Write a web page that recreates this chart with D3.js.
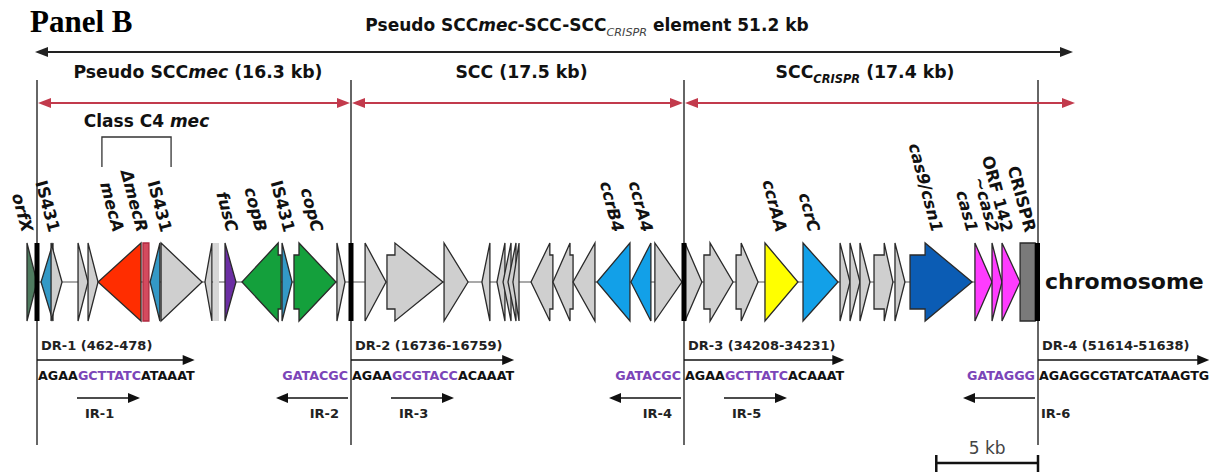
<!DOCTYPE html>
<html><head><meta charset="utf-8">
<script src="https://cdn.jsdelivr.net/npm/d3@7"></script>
<style>body{margin:0;background:#fff}svg{display:block}</style>
</head><body>
<svg id="c" width="1226" height="472"></svg>
<script>
// ---------------- data ----------------
const panelTitle = "Panel B";
const titleParts = [["Pseudo SCC","n"],["mec","i"],["-SCC-SCC","n"],["CRISPR","sub"],[" element 51.2 kb","n"]];
const boundaryKb = [0, 16.3, 33.8, 51.2];
const sectionParts = [
  [["Pseudo SCC","n"],["mec","i"],[" (16.3 kb)","n"]],
  [["SCC (17.5 kb)","n"]],
  [["SCC","n"],["CRISPR","subb"],[" (17.4 kb)","n"]]
];
const classC4Parts = [["Class C4 ","n"],["mec","i"]];
const classC4Kb = [3.37, 6.96];

// genes (kb along the element), strand, kind, arrow body length (kb)
const geneStart  = [-0.52,0.21,0.73,2.13,2.65,3.17,5.50,5.87,6.44,8.72,9.14,9.76,10.64,12.72,13.34,15.57,
                    17.04,18.19,21.19,23.18,23.97,24.29,24.55,24.81,25.76,26.91,27.97,29.23,31.01,32.27,
                    33.85,34.78,36.36,37.78,39.65,41.47,41.96,42.45,43.14,44.17,44.91,48.10,48.94,49.43,50.32];
const geneEnd    = [0.00,0.83,1.30,2.65,3.17,5.40,5.81,6.38,8.57,9.08,9.45,10.33,12.67,13.24,15.52,15.99,
                    18.14,21.13,22.45,23.60,24.39,24.71,24.97,25.13,26.91,27.97,29.12,30.96,32.06,33.69,
                    34.68,36.21,37.44,39.40,41.37,41.96,42.45,42.94,44.07,44.66,47.96,48.94,49.43,50.32,51.06];
const geneStrand = [1,-1,1,1,1,-1,0,-1,1,-1,0,1,-1,1,1,1,
                    1,1,1,-1,-1,-1,-1,-1,-1,-1,-1,-1,-1,1,
                    1,1,1,1,1,1,1,1,1,1,1,1,1,1,0];
const geneKind   = ["orfX","IS","other","other","other","mecA","mecR","IS","other","other","light","fus","cop","IS","cop","other",
                    "other","other","other","other","other","other","other","other","other","other","other","ccr","ccr","other",
                    "other","other","other","ccrAA","ccr","other","other","other","other","other","cas9","cas","cas","cas","crispr"];
const geneBody   = [0,0,0,0,0,0,0,0,0,0,0,0,0.15,0,0.26,0,
                    0,0.42,0,0,0,0,0,0,0.16,0.16,0,0,0,0,
                    0,0.30,0.25,0,0,0,0,0,0.50,0,0.74,0,0,0,0];

const labelNames  = ["orfX","IS431","mecA","\u0394mecR","IS431","fusC","copB","IS431","copC","ccrB4","ccrA4","ccrAA","ccrC","cas9/csn1","cas1","~cas2","ORF 142","CRISPR"];
const labelKb     = [-0.78,0.62,3.95,5.19,6.44,9.86,11.37,12.82,14.28,30.07,31.59,38.32,39.94,45.99,47.71,48.74,49.43,50.56];
const labelItalic = [true,false,true,true,false,true,true,false,true,true,true,true,true,true,true,true,false,false];

const chromosomeLabel = "chromosome";
const drLabels  = ["DR-1 (462-478)","DR-2 (16736-16759)","DR-3 (34208-34231)","DR-4 (51614-51638)"];
const drPre     = ["AGAA","AGAA","AGAA","AGAGGCGTATCATAAGTG"];
const drMotif   = ["GCTTATC","GCGTACC","GCTTATC",""];
const drPost    = ["ATAAAT","ACAAAT","ACAAAT",""];
const leftSeq   = ["","GATACGC","GATACGC","GATAGGG"];
const irNames   = ["IR-1","IR-2","IR-3","IR-4","IR-5","IR-6"];
const scaleKb   = 5;
const scaleLabel = "5 kb";

// ---------------- drawing ----------------
const svg = d3.select("#c");
const font = "'DejaVu Sans', Verdana, sans-serif";
const ink = "#222";
const x = d3.scaleLinear().domain(boundaryKb).range([37, 351, 684, 1038]);
const cy = 282, hh = 39, bh = 27;
const endKb = boundaryKb[boundaryKb.length-1];

const kindFill = {other:"#cfcfcf", orfX:"#4e7b5f", IS:"#3399c6", mecA:"#ff2d00", mecR:"#d44a5e",
  light:"#d6d6d6", fus:"#6b2ea3", cop:"#14a03c", ccr:"#12a0e8", ccrAA:"#ffff00",
  cas9:"#0b5cb4", cas:"#ff3cff", crispr:"#7a7a7a"};

function rich(sel, parts){
  let shifted = false;
  parts.forEach(([s, st]) => {
    const ts = sel.append("tspan").text(s);
    if (st === "i") ts.attr("font-style","italic");
    if (st === "sub" || st === "subb") {
      ts.attr("font-style","italic").attr("font-size","0.66em").attr("dy",5);
      if (st === "sub") ts.attr("font-weight","normal").attr("fill","#444");
      shifted = true;
    } else if (shifted) { ts.attr("dy",-5); shifted = false; }
  });
}
function harrow(x1, x2, y, color, sw, hl, hw, left, right){
  svg.append("line").attr("x1", left ? x1+hl-1 : x1).attr("x2", right ? x2-hl+1 : x2)
    .attr("y1",y).attr("y2",y).attr("stroke",color).attr("stroke-width",sw);
  if (left) svg.append("path").attr("d",`M${x1},${y}L${x1+hl},${y-hw}L${x1+hl},${y+hw}Z`).attr("fill",color);
  if (right) svg.append("path").attr("d",`M${x2},${y}L${x2-hl},${y-hw}L${x2-hl},${y+hw}Z`).attr("fill",color);
}

// Panel label
svg.append("text").attr("x",30).attr("y",32)
  .attr("font-family","'Liberation Serif','Times New Roman',serif").attr("font-weight","bold")
  .attr("font-size",31).attr("fill","#000").text(panelTitle);

// Title
rich(svg.append("text").attr("x",587).attr("y",31).attr("text-anchor","middle")
  .attr("font-family",font).attr("font-weight","bold").attr("font-size",17).attr("fill","#111"), titleParts);
harrow(x(0)-2, x(endKb)+35, 52, "#222", 2, 13, 5, true, true);

// Vertical boundary lines
svg.selectAll(".vb").data(boundaryKb).join("line").attr("class","vb")
  .attr("x1",d=>x(d)).attr("x2",d=>x(d)).attr("y1",80).attr("y2",445)
  .attr("stroke","#333").attr("stroke-width",1.5);

// Section labels + red arrows
sectionParts.forEach((p,i)=>{
  const a = x(boundaryKb[i]), b = x(boundaryKb[i+1]);
  rich(svg.append("text").attr("x",(a+b)/2+4).attr("y",78).attr("text-anchor","middle")
    .attr("font-family",font).attr("font-weight","bold").attr("font-size",17.3).attr("fill","#111"), p);
  const last = i === sectionParts.length-1;
  harrow(a+1, last ? b+37 : b-1, 103, "#c23a4c", 2, 13, 5, true, true);
});

// Class C4 mec bracket
rich(svg.append("text").attr("x",(x(classC4Kb[0])+x(classC4Kb[1]))/2+10).attr("y",127).attr("text-anchor","middle")
  .attr("font-family",font).attr("font-weight","bold").attr("font-size",17).attr("fill","#111"), classC4Parts);
svg.append("path").attr("d",`M${x(classC4Kb[0])},167V137H${x(classC4Kb[1])}V167`)
  .attr("fill","none").attr("stroke","#333").attr("stroke-width",1.3);

// Backbone
svg.append("line").attr("x1",x(geneStart[0])).attr("x2",x(endKb)).attr("y1",cy).attr("y2",cy)
  .attr("stroke","#555").attr("stroke-width",1.2);

// Genes
function genePath(i){
  const x0 = x(geneStart[i]), x1 = x(geneEnd[i]), s = geneStrand[i];
  const b = geneBody[i] ? x(geneStart[i]+geneBody[i]) - x0 : 0;
  if (s === 0) return `M${x0},${cy-hh}H${x1}V${cy+hh}H${x0}Z`;
  if (s > 0) {
    if (!b) return `M${x0},${cy-hh}L${x1},${cy}L${x0},${cy+hh}Z`;
    const xb = x0+b;
    return `M${x0},${cy-bh}H${xb}V${cy-hh}L${x1},${cy}L${xb},${cy+hh}V${cy+bh}H${x0}Z`;
  } else {
    if (!b) return `M${x1},${cy-hh}L${x0},${cy}L${x1},${cy+hh}Z`;
    const xb = x1-b;
    return `M${x1},${cy-bh}H${xb}V${cy-hh}L${x0},${cy}L${xb},${cy+hh}V${cy+bh}H${x1}Z`;
  }
}
svg.selectAll(".gene").data(d3.range(geneStart.length)).join("path").attr("class","gene")
  .attr("d",genePath)
  .attr("fill",i=>kindFill[geneKind[i]])
  .attr("stroke",i=>geneKind[i]==="light" ? "none" : (geneKind[i]==="mecR" ? "#b02a40" : "#2a2a2a"))
  .attr("stroke-width",1.3).attr("stroke-linejoin","miter");

// DR black bars
svg.selectAll(".dr").data(boundaryKb).join("rect").attr("class","dr")
  .attr("x",(d,i)=>x(d)-(i===boundaryKb.length-1?3:2.5)).attr("width",5)
  .attr("y",cy-hh).attr("height",2*hh).attr("fill","#000");

// Gene labels
svg.selectAll(".gl").data(labelNames).join("text").attr("class","gl")
  .attr("transform",(d,i)=>`translate(${x(labelKb[i])},233) rotate(75)`)
  .attr("text-anchor","end").attr("font-family",font).attr("font-weight","bold")
  .attr("font-style",(d,i)=>labelItalic[i]?"italic":"normal")
  .attr("font-size",16.5).attr("fill","#111").text(d=>d);

// chromosome
svg.append("text").attr("x",x(endKb)+7).attr("y",289).attr("font-family",font)
  .attr("font-weight","bold").attr("font-size",22).attr("fill","#111").text(chromosomeLabel);

// DR annotations
const purple = "#7b45b8";
boundaryKb.forEach((kb,i)=>{
  const bx = x(kb);
  svg.append("text").attr("x",bx+4).attr("y",350).attr("font-family",font).attr("font-weight","bold")
    .attr("font-size",13).attr("fill",ink).text(drLabels[i]);
  const seq = svg.append("text").attr("x",bx+1).attr("y",380).attr("font-family",font).attr("font-weight","bold")
    .attr("font-size",12.7).attr("fill","#111");
  seq.append("tspan").text(drPre[i]);
  if (drMotif[i]) seq.append("tspan").attr("fill",purple).text(drMotif[i]);
  if (drPost[i]) seq.append("tspan").text(drPost[i]);
  const len = seq.node().getComputedTextLength();
  harrow(bx, bx+1+len, 360, "#111", 1.5, 12, 5, false, true);
  if (leftSeq[i]) svg.append("text").attr("x",bx-3).attr("y",380).attr("text-anchor","end")
    .attr("font-family",font).attr("font-weight","bold").attr("font-size",12.7).attr("fill",purple).text(leftSeq[i]);
});

// IR arrows
irNames.forEach((name,k)=>{
  const right = k % 2 === 0;
  const bx = x(boundaryKb[right ? k/2 : (k+1)/2]);
  const lab = svg.append("text").attr("y",418).attr("font-family",font).attr("font-weight","bold")
    .attr("font-size",13).attr("fill",ink).text(name);
  if (right) {
    harrow(bx+40, bx+103, 398, "#111", 1.5, 12, 5, false, true);
    lab.attr("x",bx+48);
  } else {
    harrow(bx-75, bx-3, 398, "#111", 1.5, 12, 5, true, false);
    if (k === irNames.length-1) lab.attr("x",bx+3);
    else lab.attr("x",bx-12).attr("text-anchor","end");
  }
});

// scale bar
const sx0 = x(endKb-scaleKb), sx1 = x(endKb);
svg.append("path").attr("d",`M${sx0},463H${sx1}M${sx0},455V472M${sx1},455V472`)
  .attr("stroke","#111").attr("stroke-width",2.5).attr("fill","none");
svg.append("text").attr("x",(sx0+sx1)/2).attr("y",454).attr("text-anchor","middle")
  .attr("font-family",font).attr("font-size",17).attr("fill","#444").text(scaleLabel);
</script>
</body></html>
